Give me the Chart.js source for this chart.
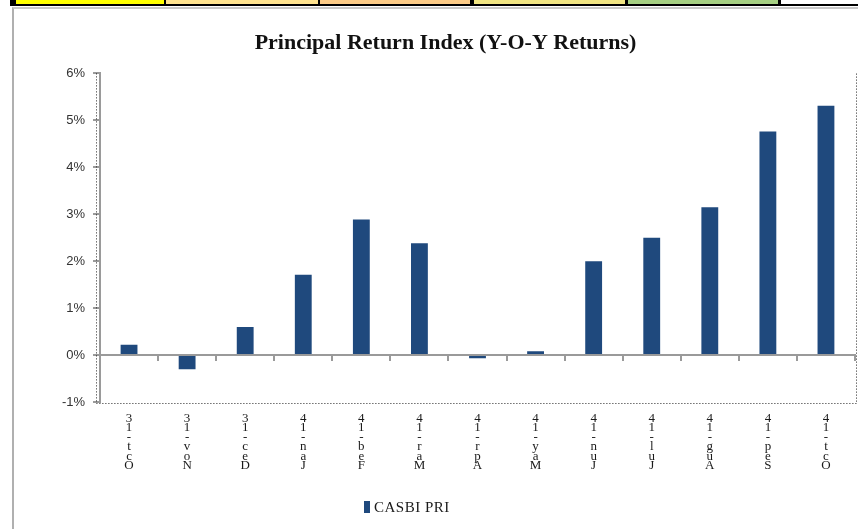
<!DOCTYPE html>
<html>
<head>
<meta charset="utf-8">
<script src="https://cdn.jsdelivr.net/npm/chart.js@4/dist/chart.umd.min.js"></script>
<style>
  body { margin: 0; background: #fff; width: 858px; height: 529px; overflow: hidden; position: relative; }
  #cells { position: absolute; left: 10px; top: 0; width: 848px; height: 6px; background: #000; }
  .cell { position: absolute; top: 0; height: 4px; }
  #frame { position: absolute; left: 12px; top: 7px; width: 846px; height: 522px;
           border-left: 2px solid #b0b0b0; border-top: 2px solid #c8c8c8; box-sizing: border-box; }
  #wrap { position: absolute; left: 0; top: 0; width: 858px; height: 529px; }
  #legend { position: absolute; left: 364px; top: 499px; font: 15px "Liberation Serif", serif; color: #1a1a1a; letter-spacing: 0.5px; }
  #legend span.box { display: inline-block; width: 6px; height: 12px; background: #1F497D; margin-right: 4px; vertical-align: -1px; }
</style>
</head>
<body>
<div id="cells">
  <div class="cell" style="left:6px;width:148px;background:#FFFF00"></div>
  <div class="cell" style="left:156px;width:152px;background:#FFE38F"></div>
  <div class="cell" style="left:310px;width:150px;background:#FCCB87"></div>
  <div class="cell" style="left:464px;width:151px;background:#F0E482"></div>
  <div class="cell" style="left:618px;width:150px;background:#A6D083"></div>
  <div class="cell" style="left:771px;width:77px;background:#FFFFFF"></div>
</div>
<div id="frame"></div>
<div id="wrap"><canvas id="chart" width="858" height="529"></canvas></div>
<div id="legend"><span class="box"></span>CASBI PRI</div>

<script>
// ==============================
// DATA
// ==============================
const months = ['Oct-13', 'Nov-13', 'Dec-13', 'Jan-14', 'Feb-14', 'Mar-14', 'Apr-14',
                'May-14', 'Jun-14', 'Jul-14', 'Aug-14', 'Sep-14', 'Oct-14'];
const casbiPri = [0.22, -0.30, 0.60, 1.71, 2.89, 2.38, -0.07, 0.08, 2.00, 2.50, 3.15, 4.76, 5.31];
const yTicks = [-1, 0, 1, 2, 3, 4, 5, 6];

// labels are shown as stacked characters, reversed (like the original export)
const stackedLabels = months.map(m => m.split('').reverse());

// ==============================
// DOTTED FRAME
// ==============================
const dottedFrame = {
    id: 'dottedFrame',
    afterDraw(chart) {
        const a = chart.chartArea;
        const ctx = chart.ctx;
        ctx.save();
        ctx.strokeStyle = '#222';
        ctx.lineWidth = 1;
        ctx.setLineDash([1, 2]);
        ctx.beginPath();
        ctx.moveTo(a.left - 3.5, a.top);
        ctx.lineTo(a.left - 3.5, a.bottom + 1.5);
        ctx.lineTo(a.right + 1.5, a.bottom + 1.5);
        ctx.lineTo(a.right + 1.5, a.top);
        ctx.stroke();
        ctx.restore();
    }
};

const ctx = document.getElementById('chart');

new Chart(ctx, {
    type: 'bar',
    data: {
        labels: months,
        datasets: [{
            label: 'CASBI PRI',
            data: casbiPri,
            backgroundColor: '#1F497D',
            borderWidth: 0,
            categoryPercentage: 1,
            barPercentage: 0.29
        }]
    },
    options: {
        responsive: false,
        animation: false,
        layout: { padding: { left: 36, right: 3, top: 0, bottom: 0 } },
        plugins: {
            legend: { display: false },
            tooltip: { enabled: false },
            title: {
                display: true,
                text: 'Principal Return Index (Y-O-Y Returns)',
                color: '#111',
                font: { family: '"Liberation Serif", serif', size: 22, weight: 'bold' },
                padding: { top: 30, bottom: 17 }
            }
        },
        scales: {
            x: {
                position: { y: 0 },
                offset: true,
                ticks: { display: false },
                grid: { drawOnChartArea: false, color: '#9a9a9a', lineWidth: 2, tickLength: 5, offset: true },
                border: { color: '#9a9a9a', width: 2 }
            },
            x2: {
                type: 'category',
                labels: stackedLabels,
                position: 'bottom',
                offset: true,
                grid: { display: false },
                border: { display: false },
                afterFit: s => { s.height = 127; },
                ticks: {
                    maxRotation: 0,
                    autoSkip: false,
                    padding: 4,
                    color: '#1a1a1a',
                    font: { family: '"Liberation Serif", serif', size: 13, lineHeight: 0.72 }
                }
            },
            y: {
                min: -1,
                max: 6,
                afterBuildTicks: s => { s.ticks = yTicks.map(v => ({ value: v })); },
                afterFit: s => { s.width = 64; },
                grid: { drawOnChartArea: false, color: '#9a9a9a', lineWidth: 2, tickLength: 7 },
                border: { color: '#9a9a9a', width: 2 },
                ticks: {
                    padding: 8,
                    color: '#333',
                    font: { family: '"Liberation Sans Narrow", "Liberation Sans", sans-serif', size: 13 },
                    callback: v => v + '%'
                }
            }
        }
    },
    plugins: [dottedFrame]
});
</script>
</body>
</html>
